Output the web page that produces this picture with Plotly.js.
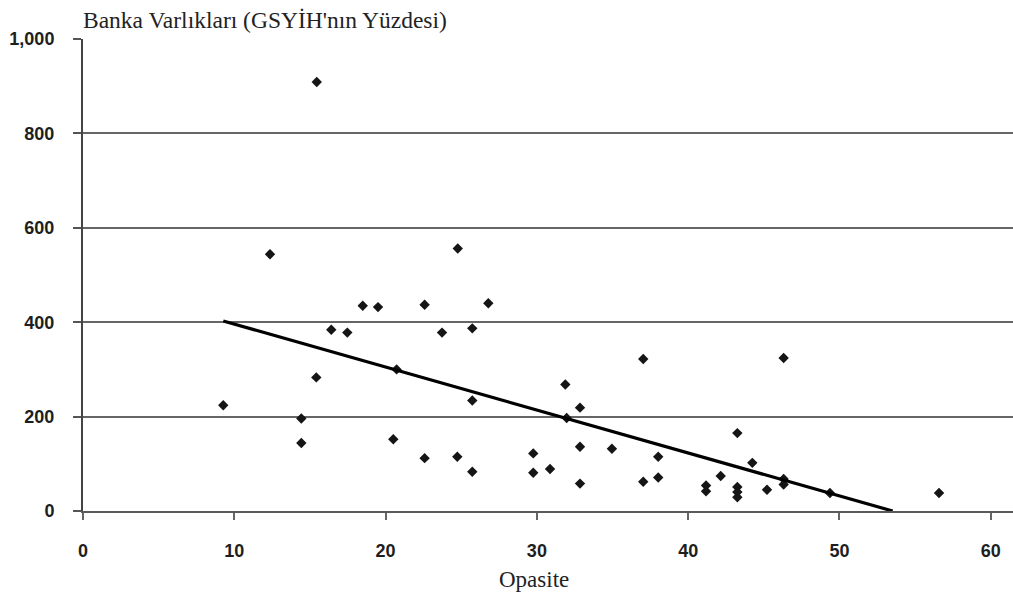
<!DOCTYPE html>
<html>
<head>
<meta charset="utf-8">
<script src="https://cdn.plot.ly/plotly-3.0.1.min.js"></script>
<style>html,body{margin:0;padding:0;background:#fff;}#chart{width:1013px;height:593px;}</style>
</head>
<body>
<div id="chart"></div>
<script>
// Opasite (x) values
const opasite = [
  15.45, 12.36, 24.77, 18.49, 19.50, 22.58, 26.79, 16.41, 17.47, 23.73,
  25.73, 15.42, 9.27, 14.43, 14.43, 20.51, 22.58, 24.74, 25.73, 25.73,
  20.73, 37.03, 46.31, 31.88, 32.85, 31.97, 43.25, 32.85, 34.96, 29.76,
  38.02, 44.24, 30.87, 29.76, 42.15, 38.02, 46.31, 46.31, 32.85, 37.03,
  41.18, 41.18, 43.25, 43.25, 43.25, 45.21, 49.37, 56.58
];
// Bank assets, % of GDP (y) values
const bankaVarliklari = [
  909, 544, 556, 435, 432, 437, 440, 384, 378, 378,
  387, 283, 224, 196, 144, 152, 112, 115, 83, 234,
  300, 322, 324, 268, 219, 197, 165, 136, 132, 122,
  115, 102, 89, 81, 74, 71, 68, 56, 58, 62,
  54, 42, 51, 40, 29, 45, 38, 38
];
// Trend line parameters
const trendIntercept = 487;
const trendSlope = -9.1;

const xTicks = [0, 10, 20, 30, 40, 50, 60];
const yTicks = [0, 200, 400, 600, 800, 1000];
const yTickLabels = ["0", "200", "400", "600", "800", "1,000"];

const titleText = "Banka Varlıkları (GSYİH'nın Yüzdesi)";
const xTitleText = "Opasite";

const xMin = Math.min.apply(null, opasite);
const xZero = -trendIntercept / trendSlope;
const trendX = [xMin, xZero];
const trendY = trendX.map(v => trendIntercept + trendSlope * v);

const tickFont = {family: "Liberation Sans, Arial, sans-serif", size: 18, color: "#1e1e1e", weight: "bold"};

const data = [
  {
    x: opasite, y: bankaVarliklari, type: "scatter", mode: "markers",
    marker: {symbol: "diamond", size: 8, color: "#151515"},
    hoverinfo: "x+y", showlegend: false
  },
  {
    x: trendX, y: trendY, type: "scatter", mode: "lines",
    line: {color: "#000", width: 3.2},
    hoverinfo: "skip", showlegend: false
  }
];

const layout = {
  width: 1013, height: 593,
  margin: {l: 83, r: 0, t: 39, b: 82, pad: 0},
  paper_bgcolor: "#fff", plot_bgcolor: "#fff",
  showlegend: false,
  title: {
    text: titleText,
    font: {family: "Liberation Serif, Times New Roman, serif", size: 23.5, color: "#222"},
    xref: "paper", x: 0, xanchor: "left",
    yref: "container", y: 1 - 20/593, yanchor: "middle"
  },
  xaxis: {
    range: [0, 61.47],
    tickvals: xTicks, ticktext: xTicks.map(String),
    ticks: "outside", ticklen: 7, tickwidth: 2, tickcolor: "#666",
    showgrid: false, zeroline: false,
    showline: true, linecolor: "#5a5a5a", linewidth: 2,
    tickfont: tickFont, ticklabelstandoff: 15,
    fixedrange: true
  },
  yaxis: {
    range: [0, 1000],
    tickvals: yTicks, ticktext: yTickLabels,
    ticks: "outside", ticklen: 8, tickwidth: 2, tickcolor: "#555",
    showgrid: true, gridcolor: "#666", gridwidth: 2,
    zeroline: false,
    showline: true, linecolor: "#444", linewidth: 2,
    tickfont: tickFont, ticklabelstandoff: 15,
    fixedrange: true
  },
  annotations: [
    {
      text: xTitleText, showarrow: false,
      xref: "paper", x: (534 - 83) / 930, xanchor: "center",
      yref: "paper", y: (511 - 579) / 472, yanchor: "middle",
      font: {family: "Liberation Serif, Times New Roman, serif", size: 23, color: "#222"}
    }
  ]
};

Plotly.newPlot("chart", data, layout, {displayModeBar: false, staticPlot: true});
</script>
</body>
</html>
